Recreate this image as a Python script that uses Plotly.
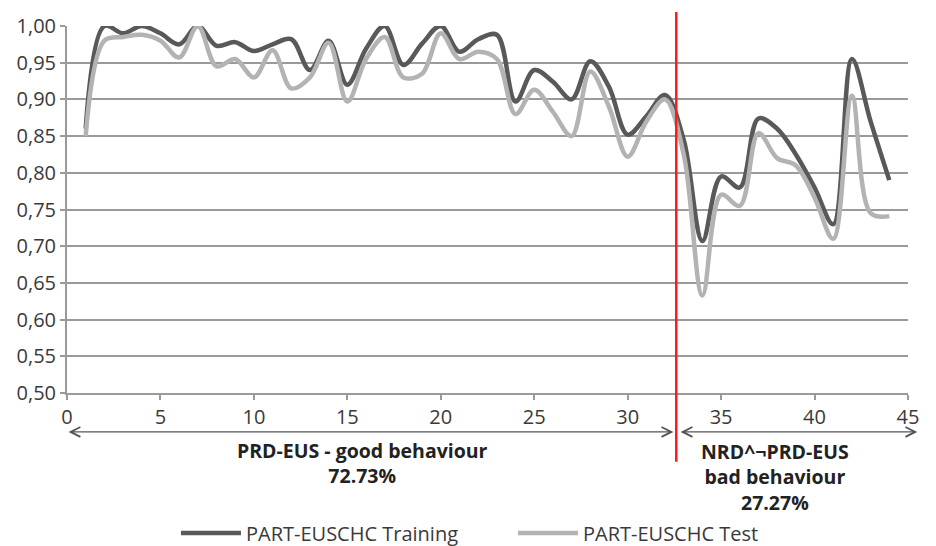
import plotly.graph_objects as go

# Per-sample accuracy for the two PART-EUSCHC runs
samples = list(range(1, 45))
training = [0.86, 1.00, 0.99, 1.00, 0.99, 0.975, 1.00, 0.973, 0.978, 0.966,
            0.975, 0.982, 0.94, 0.98, 0.92, 0.969, 1.00, 0.947, 0.976, 1.00,
            0.965, 0.982, 0.988, 0.897, 0.94, 0.924, 0.90, 0.952, 0.917, 0.852,
            0.877, 0.906, 0.845, 0.707, 0.795, 0.78, 0.874, 0.86, 0.825, 0.78,
            0.73, 0.955, 0.87, 0.79]
test = [0.85, 0.98, 0.985, 0.988, 0.98, 0.957, 1.00, 0.945, 0.955, 0.93,
        0.967, 0.915, 0.93, 0.977, 0.897, 0.955, 0.985, 0.93, 0.935, 0.99,
        0.955, 0.965, 0.955, 0.88, 0.913, 0.883, 0.85, 0.938, 0.89, 0.822,
        0.87, 0.90, 0.825, 0.633, 0.77, 0.755, 0.854, 0.82, 0.81, 0.766,
        0.71, 0.905, 0.745, 0.741]
series_names = ["PART-EUSCHC Training", "PART-EUSCHC Test"]

# Boundary between the two behaviour groups
split_x = 32.6
good_label = "PRD-EUS - good behaviour<br>72.73%"
bad_label = "NRD^¬PRD-EUS<br>bad behaviour<br>27.27%"

FONT = "Open Sans"
GRID = "#9a9a9a"
TEXT = "#3a3a3a"

fig = go.Figure()
fig.add_trace(go.Scatter(x=samples, y=training, name=series_names[0], mode="lines",
                         line=dict(color="#595959", width=4.5, shape="spline", smoothing=1.0)))
fig.add_trace(go.Scatter(x=samples, y=test, name=series_names[1], mode="lines",
                         line=dict(color="#b3b3b3", width=4.5, shape="spline", smoothing=1.0)))

# Red divider running from above the plot down through the group labels
fig.add_shape(type="line", xref="x", yref="paper", x0=split_x, x1=split_x,
              y0=-0.187, y1=1.038, line=dict(color="#ff1a1a", width=2.5), layer="above")

# Double-headed arrows spanning each group
arrow_y = -0.106
for x0, x1 in [(0, split_x - 0.15), (split_x + 0.15, 45.5)]:
    fig.add_annotation(x=x1, y=arrow_y, xref="x", yref="paper",
                       ax=x0, ay=0, axref="x", ayref="pixel",
                       showarrow=True, arrowhead=5, startarrowhead=5,
                       arrowside="end+start", arrowsize=1.6, startarrowsize=1.6,
                       arrowwidth=1.2, arrowcolor="#555555", text="")

fig.add_annotation(x=15.8, y=-0.115, xref="x", yref="paper", yanchor="top",
                   text=f"<b>{good_label}</b>", showarrow=False,
                   font=dict(family=FONT, size=19.5, color="#222222"), align="center")
fig.add_annotation(x=37.9, y=-0.118, xref="x", yref="paper", yanchor="top",
                   text=f"<b>{bad_label}</b>", showarrow=False,
                   font=dict(family=FONT, size=19.5, color="#222222"), align="center")

fig.update_layout(
    width=936, height=546,
    margin=dict(l=67, r=28, t=24, b=153),
    paper_bgcolor="white", plot_bgcolor="white",
    separators=",.",
    font=dict(family=FONT, size=20, color=TEXT),
    showlegend=True,
    legend=dict(orientation="h", xref="container", yref="container",
                x=0.188, xanchor="left", y=0.024, yanchor="middle",
                font=dict(family=FONT, size=20, color=TEXT), itemwidth=60,
                entrywidth=262, entrywidthmode="pixels",
                traceorder="normal"),
    xaxis=dict(range=[0, 45], tick0=0, dtick=5, showgrid=False, zeroline=False,
               showline=True, linecolor=GRID, linewidth=2,
               ticks="outside", ticklen=5, tickcolor=GRID, tickwidth=2,
               tickfont=dict(family=FONT, size=20, color=TEXT)),
    yaxis=dict(range=[0.5, 1.0], tick0=0.5, dtick=0.05, tickformat=".2f",
               showgrid=True, gridcolor=GRID, gridwidth=2, zeroline=False,
               showline=True, linecolor=GRID, linewidth=2,
               ticks="outside", ticklen=5, tickcolor=GRID, tickwidth=2,
               tickfont=dict(family=FONT, size=20, color=TEXT)),
)

fig.write_html("out.html")
